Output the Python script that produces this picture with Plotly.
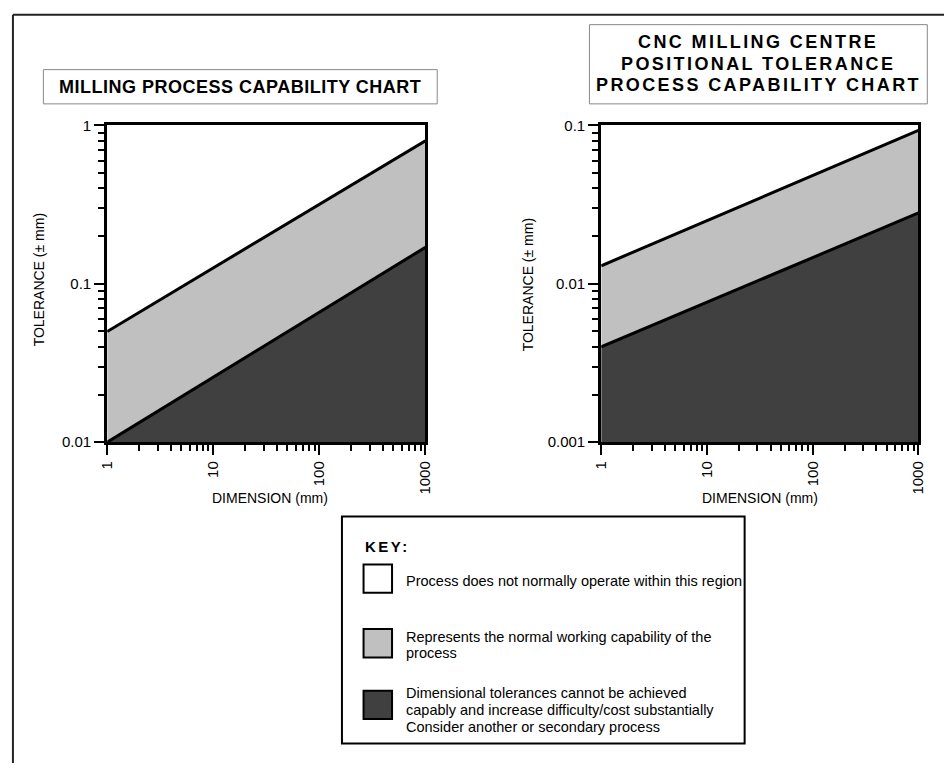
import plotly.graph_objects as go

W, H = 952, 771

# ---------------- data ----------------
dimension = [1, 1000]
left_upper = [0.05, 0.8]      # boundary between white and grey (milling)
left_lower = [0.01, 0.17]     # boundary between grey and dark (milling)
right_upper = [0.013, 0.093]  # CNC positional tolerance
right_lower = [0.004, 0.028]

x_ticks = [1, 10, 100, 1000]
x_ticktext = ["1", "10", "100", "1000"]
left_yticks = [0.01, 0.1, 1]
left_yticktext = ["0.01", "0.1", "1"]
right_yticks = [0.001, 0.01, 0.1]
right_yticktext = ["0.001", "0.01", "0.1"]

left_title = "MILLING PROCESS CAPABILITY CHART"
right_title = ["CNC MILLING CENTRE", "POSITIONAL TOLERANCE", "PROCESS CAPABILITY CHART"]
key_items = [
    ("white", ["Process does not normally operate within this region"]),
    ("#c0c0c0", ["Represents the normal working capability of the", "process"]),
    ("#404040", ["Dimensional tolerances cannot be achieved",
                 "capably and increase difficulty/cost substantially",
                 "Consider another or secondary process"]),
]

LIGHT = "#c0c0c0"
DARK = "#404040"
FONT = "Liberation Sans, Arial, Helvetica, sans-serif"


def px(x):
    return x / W


def py(y):
    return 1 - y / H


fig = go.Figure()


def add_panel(xa, ya, upper, lower, ybottom):
    xref = "x" if xa == 1 else "x%d" % xa
    yref = "y" if ya == 1 else "y%d" % ya
    # grey band (from upper line down to axis bottom)
    fig.add_trace(go.Scatter(
        x=[dimension[0], dimension[1], dimension[1], dimension[0]],
        y=[upper[0], upper[1], ybottom, ybottom],
        fill="toself", fillcolor=LIGHT, mode="none",
        xaxis=xref, yaxis=yref, showlegend=False, hoverinfo="skip"))
    # dark band (from lower line down to axis bottom)
    fig.add_trace(go.Scatter(
        x=[dimension[0], dimension[1], dimension[1], dimension[0]],
        y=[lower[0], lower[1], ybottom, ybottom],
        fill="toself", fillcolor=DARK, mode="none",
        xaxis=xref, yaxis=yref, showlegend=False, hoverinfo="skip"))
    for line in (upper, lower):
        fig.add_trace(go.Scatter(
            x=dimension, y=line, mode="lines",
            line=dict(color="black", width=3),
            xaxis=xref, yaxis=yref, showlegend=False, hoverinfo="skip"))


add_panel(1, 1, left_upper, left_lower, left_yticks[0])
add_panel(2, 2, right_upper, right_lower, right_yticks[0])

tickfont = dict(family=FONT, size=15, color="black")

xcommon = dict(
    type="log", range=[0, 3], tickmode="array", tickvals=x_ticks, ticktext=x_ticktext,
    tickangle=-90, ticks="outside", ticklen=10, tickwidth=2, tickcolor="black",
    showline=True, linewidth=3, linecolor="black", mirror=True,
    showgrid=False, zeroline=False, tickfont=tickfont,
    minor=dict(ticks="outside", ticklen=6, tickwidth=2, tickcolor="black",
               dtick="D1", showgrid=False),
)
ycommon = dict(
    type="log", tickmode="array",
    ticks="outside", ticklen=10, tickwidth=2, tickcolor="black",
    showline=True, linewidth=3, linecolor="black", mirror=True,
    showgrid=False, zeroline=False, tickfont=tickfont,
    minor=dict(ticks="outside", ticklen=6, tickwidth=2, tickcolor="black",
               dtick="D1", showgrid=False),
)

fig.update_layout(
    width=W, height=H,
    margin=dict(l=0, r=0, t=0, b=0),
    paper_bgcolor="white", plot_bgcolor="white",
    font=dict(family=FONT, color="black"),
    xaxis=dict(xcommon, domain=[px(100), px(424)], anchor="y"),
    yaxis=dict(ycommon, domain=[py(443), py(119)], anchor="x",
               range=[-2, 0], tickvals=left_yticks, ticktext=left_yticktext),
    xaxis2=dict(xcommon, domain=[px(603), px(926)], anchor="y2"),
    yaxis2=dict(ycommon, domain=[py(443), py(119)], anchor="x2",
                range=[-3, -1], tickvals=right_yticks, ticktext=right_yticktext),
)

shapes = []
annotations = []

# outer frame (top + left edges)
shapes.append(dict(type="line", xref="paper", yref="paper",
                   x0=px(4), x1=px(952), y0=py(6), y1=py(6),
                   line=dict(color="#222222", width=2)))
shapes.append(dict(type="line", xref="paper", yref="paper",
                   x0=px(4), x1=px(4), y0=py(6), y1=py(771),
                   line=dict(color="#222222", width=2)))

# title boxes
shapes.append(dict(type="rect", xref="paper", yref="paper",
                   x0=px(35), x1=px(436), y0=py(97), y1=py(62),
                   line=dict(color="#888888", width=1), fillcolor="white"))
shapes.append(dict(type="rect", xref="paper", yref="paper",
                   x0=px(591), x1=px(935), y0=py(97), y1=py(16),
                   line=dict(color="#888888", width=1), fillcolor="white"))

title_font = dict(family=FONT, size=18, color="black")
annotations.append(dict(
    xref="paper", yref="paper", x=px(235.5), y=py(80), xanchor="center", yanchor="middle",
    text='<span style="letter-spacing:0.5px"><b>%s</b></span>' % left_title,
    showarrow=False, font=title_font))
for i, line in enumerate(right_title):
    annotations.append(dict(
        xref="paper", yref="paper", x=px(763), y=py(34 + 22 * i),
        xanchor="center", yanchor="middle",
        text='<span style="letter-spacing:2.4px"><b>%s</b></span>' % line,
        showarrow=False, font=title_font))

# axis titles
axis_font = dict(family=FONT, size=14, color="black")
for cx, cy, txt, ang in [
    (30, 277, "TOLERANCE (± mm)", -90),
    (528, 282, "TOLERANCE (± mm)", -90),
    (266, 500, "DIMENSION (mm)", 0),
    (765, 500, "DIMENSION (mm)", 0),
]:
    annotations.append(dict(xref="paper", yref="paper", x=px(cx), y=py(cy),
                            xanchor="center", yanchor="middle", text=txt,
                            textangle=ang, showarrow=False, font=axis_font))

# key box
shapes.append(dict(type="rect", xref="paper", yref="paper",
                   x0=px(339), x1=px(749), y0=py(751), y1=py(519),
                   line=dict(color="black", width=2), fillcolor="white"))
annotations.append(dict(
    xref="paper", yref="paper", x=px(360), y=py(550), xanchor="left", yanchor="middle",
    text='<span style="letter-spacing:2.5px"><b>KEY:</b></span>', showarrow=False,
    font=dict(family=FONT, size=15, color="black")))

key_font = dict(family=FONT, size=14.5, color="black")
swatch_tops = [568, 634, 697]
text_centers = [[585], [642, 659], [699, 717, 734]]
for (color, lines), top, centers in zip(key_items, swatch_tops, text_centers):
    shapes.append(dict(type="rect", xref="paper", yref="paper",
                       x0=px(361), x1=px(390), y0=py(top + 29), y1=py(top),
                       line=dict(color="black", width=2), fillcolor=color))
    for ln, cy in zip(lines, centers):
        annotations.append(dict(xref="paper", yref="paper", x=px(402), y=py(cy),
                                xanchor="left", yanchor="middle", text=ln,
                                showarrow=False, font=key_font))

fig.update_layout(shapes=shapes, annotations=annotations)

fig.write_html("out.html", post_script="document.body.style.margin='0';",
               config={"displayModeBar": False})
